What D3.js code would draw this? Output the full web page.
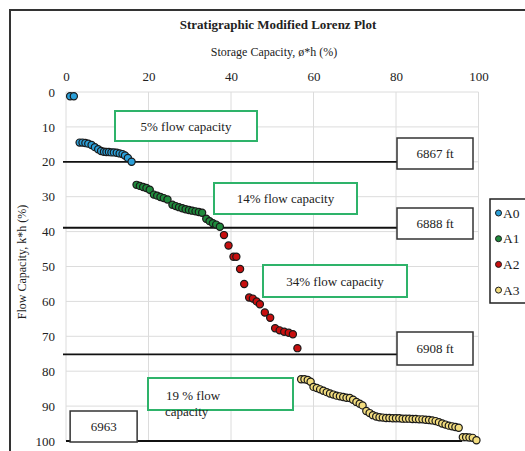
<!DOCTYPE html>
<html>
<head>
<meta charset="utf-8">
<script src="https://cdn.jsdelivr.net/npm/d3@7"></script>
<style>
  body { margin: 0; background: #fff; }
  text { font-family: "Liberation Serif", "DejaVu Serif", serif; fill: #222; }
</style>
</head>
<body>
<div class="playground"></div>
<script>
// storage capacity (x) and flow capacity (y) for each zone, in %
var a0X = [1.0, 1.9, 3.3, 4.0, 4.7, 5.4, 6.2, 7.0, 7.8, 8.5, 9.2, 9.8, 10.4, 11.0, 11.6, 12.3, 13.0, 13.7, 14.3, 15.0, 15.9];
var a0Y = [1.2, 1.2, 14.5, 14.5, 14.6, 14.8, 15.2, 15.8, 16.4, 16.9, 17.1, 17.2, 17.2, 17.3, 17.3, 17.4, 17.6, 17.8, 18.2, 18.9, 20.0];

var a1X = [17.1, 17.9, 18.7, 19.5, 20.3, 21.3, 22.1, 22.9, 23.7, 24.6, 25.8, 26.6, 27.4, 28.2, 29.0, 29.8, 30.6, 31.4, 32.2, 33.0, 34.0, 34.8, 35.6, 36.4, 37.3];
var a1Y = [26.6, 26.9, 27.2, 27.5, 28.0, 29.4, 29.7, 30.1, 30.4, 30.8, 32.3, 32.7, 33.0, 33.3, 33.6, 33.8, 34.0, 34.2, 34.4, 34.6, 36.3, 37.0, 37.6, 38.0, 38.6];

var a2X = [38.3, 39.4, 40.6, 41.3, 42.2, 43.2, 44.4, 45.3, 46.2, 47.0, 48.2, 49.5, 50.7, 51.8, 52.9, 54.0, 55.0, 56.1];
var a2Y = [41.0, 44.0, 47.2, 47.2, 50.7, 55.0, 58.9, 59.2, 60.0, 60.8, 63.2, 64.7, 67.7, 68.3, 68.7, 69.0, 69.4, 73.4];

var a3X = [57.0, 57.8, 58.6, 59.3, 60.0, 60.8, 61.6, 62.4, 63.2, 64.0, 64.8, 65.6, 66.4, 67.2, 68.0, 68.8, 69.6, 70.4, 71.2, 71.9,
           72.8, 73.6, 74.4, 75.2, 76.0, 76.8, 77.6, 78.4, 79.2, 80.0, 80.8, 81.6, 82.4, 83.2, 84.0, 84.8, 85.6, 86.4, 87.2, 88.0,
           88.8, 89.6, 90.4, 91.2, 92.0, 92.8, 93.6, 94.4, 95.2, 96.2, 97.0, 97.8, 98.6, 99.5];
var a3Y = [82.3, 82.3, 82.5, 83.0, 84.5, 84.8, 85.2, 85.6, 86.0, 86.4, 86.7, 87.0, 87.2, 87.4, 87.6, 87.7, 88.2, 88.8, 89.3, 89.8,
           91.4, 92.0, 92.6, 93.0, 93.2, 93.3, 93.4, 93.4, 93.5, 93.5, 93.5, 93.6, 93.6, 93.6, 93.7, 93.7, 93.8, 93.8, 93.9, 94.0,
           94.1, 94.3, 94.6, 95.0, 95.3, 95.6, 95.8, 96.0, 96.2, 98.9, 98.9, 99.0, 99.1, 99.8];

var seriesNames  = ["A0", "A1", "A2", "A3"];
var seriesColors = ["#2b9fd8", "#1f8a3c", "#c80f0f", "#f2dc7e"];

var xTicks = [0, 20, 40, 60, 80, 100];
var yTicks = [0, 10, 20, 30, 40, 50, 60, 70, 80, 90, 100];

// zone boundaries: flow capacity where the black line sits, and its depth label
var boundaryY     = [20.0, 38.9, 75.2, 100];
var boundaryLabel = ["6867 ft", "6888 ft", "6908 ft", "6963"];

// green callouts
var calloutText = ["5% flow capacity", "14% flow capacity", "34% flow capacity", "19 % flow capacity"];

var width  = 525,
    height = 451;

var svg = d3.select(".playground")
            .append("svg")
            .attr("width", width)
            .attr("height", height);

// chart frame
svg.append("rect")
   .attr("x", 10).attr("y", 10)
   .attr("width", 600).attr("height", 500)
   .attr("fill", "#fff")
   .attr("stroke", "#333")
   .attr("stroke-width", 2);

var x = d3.scaleLinear().domain([0, 100]).range([66, 478.5]);
var y = d3.scaleLinear().domain([0, 100]).range([92, 441]);

// gridlines
svg.append("g").selectAll("line")
   .data(xTicks).enter().append("line")
   .attr("x1", function(d) { return x(d); })
   .attr("x2", function(d) { return x(d); })
   .attr("y1", y(0)).attr("y2", y(100))
   .attr("stroke", "#dcdcdc").attr("stroke-width", 1);

svg.append("g").selectAll("line")
   .data(yTicks).enter().append("line")
   .attr("y1", function(d) { return y(d); })
   .attr("y2", function(d) { return y(d); })
   .attr("x1", x(0)).attr("x2", x(100))
   .attr("stroke", "#dcdcdc").attr("stroke-width", 1);

// axes, labels only (Excel style)
var xAxis = svg.append("g")
               .attr("transform", "translate(0," + (y(0) - 11) + ")")
               .call(d3.axisTop(x).tickValues(xTicks).tickSize(0).tickPadding(0));
var yAxis = svg.append("g")
               .attr("transform", "translate(" + (x(0) - 11) + ",0)")
               .call(d3.axisLeft(y).tickValues(yTicks).tickSize(0).tickPadding(0));

[xAxis, yAxis].forEach(function(a) {
  a.select(".domain").remove();
  a.selectAll("text")
   .style("font-family", "'Liberation Serif', serif")
   .style("font-size", "13px")
   .attr("fill", "#222");
});

// titles
svg.append("text")
   .attr("x", 278).attr("y", 29)
   .attr("text-anchor", "middle")
   .style("font-size", "13px")
   .style("font-weight", "bold")
   .text("Stratigraphic Modified Lorenz Plot");

svg.append("text")
   .attr("x", 274).attr("y", 56)
   .attr("text-anchor", "middle")
   .style("font-size", "12px")
   .text("Storage Capacity, \u00f8*h (%)");

svg.append("text")
   .attr("transform", "translate(26," + 262 + ") rotate(-90)")
   .attr("text-anchor", "middle")
   .style("font-size", "12px")
   .text("Flow Capacity, k*h (%)");

// boundary lines and depth boxes
var boxLeft = [x(80) + 1, x(80) + 1, x(80) + 1, x(1)];
var boxW    = [76, 76, 76, 67];
var boxTop  = [138, 208, 332, 411];
var boxH    = [31, 31, 33, 31];
var lineEnd = [x(80) + 1, x(80) + 1, x(80) + 1, x(96)];

boundaryY.forEach(function(v, i) {
  svg.append("line")
     .attr("x1", i == 3 ? x(0) : x(0) - 3).attr("x2", lineEnd[i])
     .attr("y1", y(v)).attr("y2", y(v))
     .attr("stroke", "#111").attr("stroke-width", 1.8);
});

// markers
var allX = [a0X, a1X, a2X, a3X];
var allY = [a0Y, a1Y, a2Y, a3Y];

allX.forEach(function(xs, s) {
  var pts = xs.map(function(v, i) { return [v, allY[s][i]]; });
  svg.append("g").selectAll("circle")
     .data(pts).enter().append("circle")
     .attr("cx", function(d) { return x(d[0]); })
     .attr("cy", function(d) { return y(d[1]); })
     .attr("r", 3.6)
     .attr("fill", seriesColors[s])
     .attr("stroke", "#1a1a1a")
     .attr("stroke-width", 1.2);
});

boundaryLabel.forEach(function(t, i) {
  svg.append("rect")
     .attr("x", boxLeft[i]).attr("y", boxTop[i])
     .attr("width", boxW[i]).attr("height", boxH[i])
     .attr("fill", "#fff").attr("stroke", "#333").attr("stroke-width", 1.5);
  svg.append("text")
     .attr("x", boxLeft[i] + boxW[i] / 2).attr("y", boxTop[i] + boxH[i] / 2 + 4.5)
     .attr("text-anchor", "middle")
     .style("font-size", "13px")
     .text(t);
});

// green callouts
var cLeft = [115, 214, 263, 148];
var cTop  = [111, 183, 265, 378];
var cW    = [142, 143, 144, 145];
var cH    = [30, 31, 32, 32];

calloutText.forEach(function(t, i) {
  svg.append("rect")
     .attr("x", cLeft[i]).attr("y", cTop[i])
     .attr("width", cW[i]).attr("height", cH[i])
     .attr("fill", "#fff").attr("stroke", "#2eb36a").attr("stroke-width", 2);
  if (i < 3) {
    svg.append("text")
       .attr("x", cLeft[i] + cW[i] / 2).attr("y", cTop[i] + cH[i] / 2 + 4.5)
       .attr("text-anchor", "middle")
       .style("font-size", "13px")
       .attr("fill", "#333")
       .text(t);
  } else {
    // last one wraps and spills out of its box
    svg.append("text")
       .attr("x", cLeft[i] + 18).attr("y", cTop[i] + 22)
       .style("font-size", "13px")
       .attr("fill", "#333")
       .text("19 % flow");
    svg.append("text")
       .attr("x", cLeft[i] + 17).attr("y", cTop[i] + 38)
       .style("font-size", "13px")
       .attr("fill", "#333")
       .text("capacity");
  }
});

// legend
var legend = svg.append("g");
legend.append("rect")
      .attr("x", 490).attr("y", 199)
      .attr("width", 60).attr("height", 104)
      .attr("fill", "#fff").attr("stroke", "#222").attr("stroke-width", 1.5);

seriesNames.forEach(function(n, i) {
  var ly = 213 + i * 25.7;
  legend.append("circle")
        .attr("cx", 498.5).attr("cy", ly)
        .attr("r", 3)
        .attr("fill", seriesColors[i])
        .attr("stroke", "#1a1a1a").attr("stroke-width", 1);
  legend.append("text")
        .attr("x", 503).attr("y", ly + 4.5)
        .style("font-size", "13.5px")
        .text(n);
});
</script>
</body>
</html>
